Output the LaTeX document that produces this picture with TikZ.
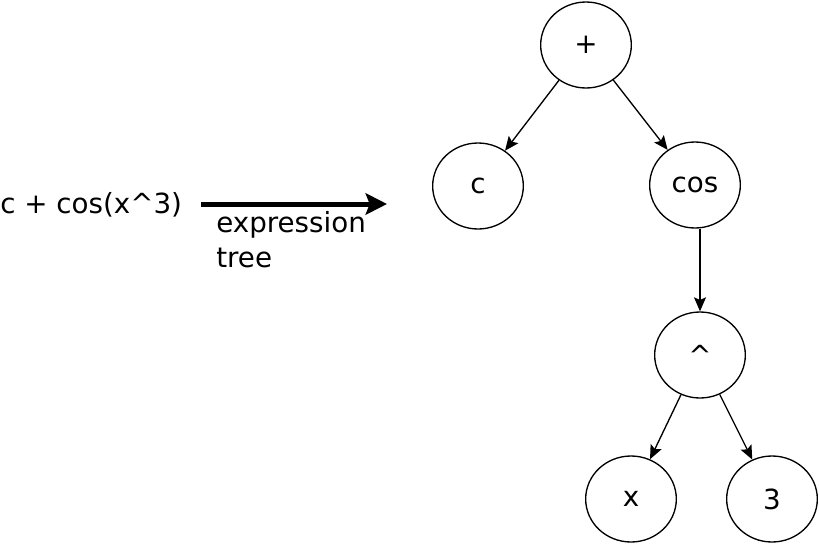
\documentclass[tikz,border=0pt]{standalone}
\usepackage{fontspec}
\setmainfont{DejaVu Sans}
\usetikzlibrary{arrows.meta,shapes.geometric}

\begin{document}
\begin{tikzpicture}[
  x=0.75pt, y=-0.75pt,
  every node/.style={font=\fontsize{20.8}{26}\selectfont},
  vert/.style={draw,ellipse,line width=1pt,minimum width=68pt,minimum height=64.5pt,inner sep=0pt},
  edge/.style={line width=1pt,-{Stealth[length=10.5pt,width=9pt,inset=2pt]}}]
\useasboundingbox (0,0) rectangle (819,546);
% input expression and conversion arrow
\node[anchor=base west,inner sep=0pt] (expr) at (0,213) {c + cos(x\textasciicircum3)};
\coordinate (from) at (201,204);
\coordinate (to)   at (387,204);
\draw[line width=3.75pt,-{Stealth[length=16pt,width=16pt,inset=3pt]}] (from) -- (to);
\node[anchor=north west,inner sep=0pt,align=left] (lbl) at (216,211) {expression\\tree};
% the tree
\node[vert] (plus) at (586,45)  {+};
\node[vert] (c)    at (478,186) {c};
\node[vert] (cos)  at (695,185) {cos};
\node[vert] (hat)  at (700,355) {\textasciicircum};
\node[vert] (x)    at (631,499) {x};
\node[vert] (three) at (772,499) {3};
\draw[edge] (plus) -- (c);
\draw[edge] (plus) -- (cos);
\draw[edge] (hat.north |- cos.south) -- (hat);
\draw[edge] (hat) -- (x);
\draw[edge] (hat) -- (three);
\end{tikzpicture}
\end{document}
